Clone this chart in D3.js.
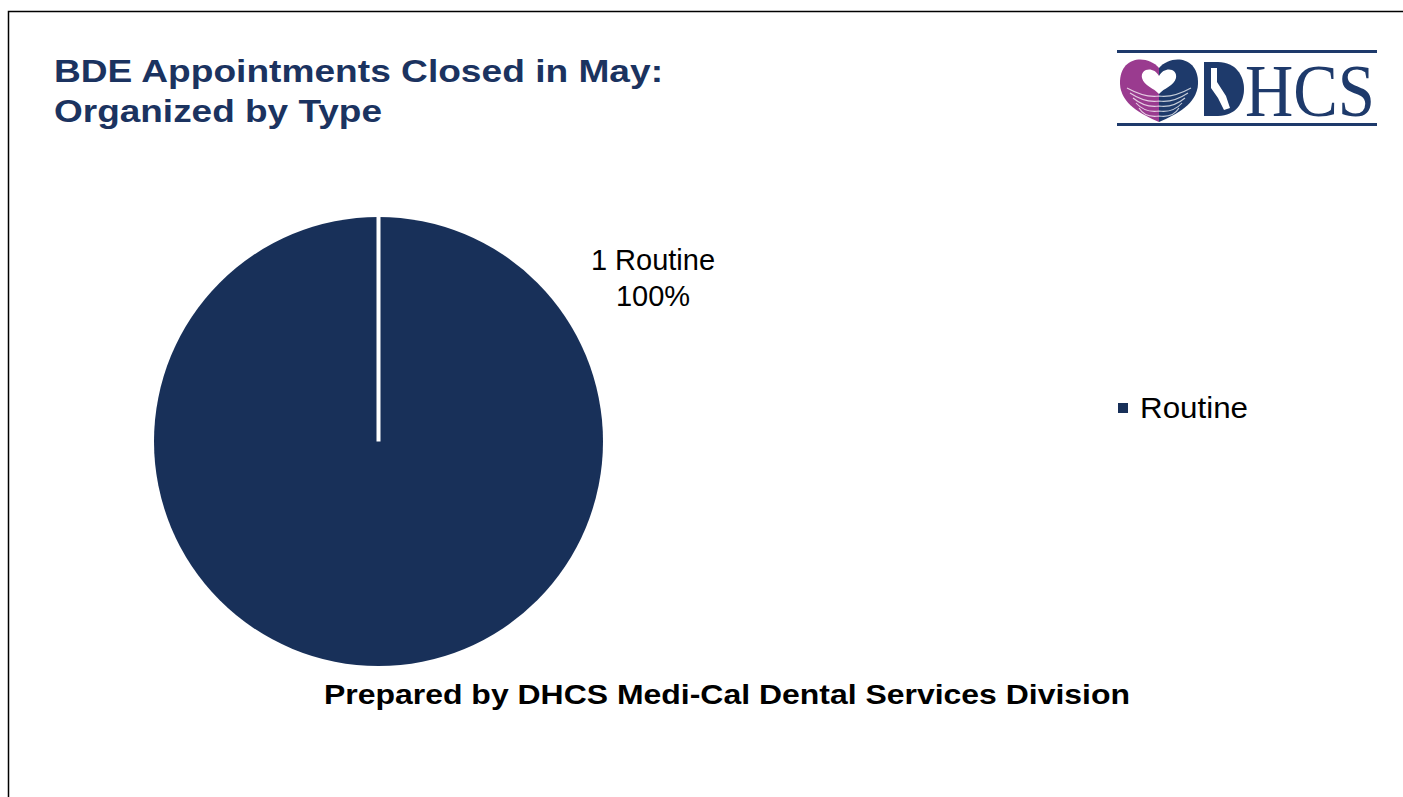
<!DOCTYPE html>
<html><head><meta charset="utf-8">
<script src="https://cdn.jsdelivr.net/npm/d3@7"></script>
<style>html,body{margin:0;padding:0;background:#fff;overflow:hidden}</style>
</head><body>
<script>
const categories = ["Routine"];
const values = [1];
const colors = ["#183059"];
const titleLines = ["BDE Appointments Closed in May:", "Organized by Type"];
const footer = "Prepared by DHCS Medi-Cal Dental Services Division";

const W = 1403, H = 797;
const svg = d3.select("body").append("svg").attr("width", W).attr("height", H);
const SANS = "Liberation Sans, Arial, sans-serif";

// frame
svg.append("path").attr("d", `M8.5,${H} L8.5,11.5 L${W},11.5`).attr("fill","none").attr("stroke","#000").attr("stroke-width",1.5);

// title
titleLines.forEach((t,i)=>{
  svg.append("text").attr("x",54).attr("y",82+i*40)
    .attr("font-family",SANS).attr("font-weight","bold")
    .attr("font-size",30.5).attr("fill","#1b3360")
    .attr("textLength", i===0?609:328).attr("lengthAdjust","spacingAndGlyphs").text(t);
});

// pie
const cx = 378.5, cy = 441.5, r = 224.5;
const pie = d3.pie().sort(null).value(d=>d)(values);
const arc = d3.arc().innerRadius(0).outerRadius(r);
const g = svg.append("g").attr("transform",`translate(${cx},${cy})`);
g.selectAll("path.slice").data(pie).join("path").attr("class","slice")
  .attr("d",arc).attr("fill",(d,i)=>colors[i]);
g.selectAll("line.sep").data(pie).join("line").attr("class","sep")
  .attr("x1",0).attr("y1",0)
  .attr("x2",d=>r*Math.sin(d.startAngle)).attr("y2",d=>-r*Math.cos(d.startAngle))
  .attr("stroke","#fff").attr("stroke-width",4);

// data labels
const total = d3.sum(values);
pie.forEach((d,i)=>{
  const t = svg.append("text").attr("text-anchor","middle")
    .attr("font-family",SANS).attr("font-size",29).attr("fill","#000");
  t.append("tspan").attr("x",653).attr("y",270).text(`${values[i]} ${categories[i]}`);
  t.append("tspan").attr("x",653).attr("y",306).text(`${Math.round(values[i]/total*100)}%`);
});

// legend
categories.forEach((c,i)=>{
  svg.append("rect").attr("x",1118).attr("y",403+i*30).attr("width",10).attr("height",10).attr("fill",colors[i]);
  svg.append("text").attr("x",1140).attr("y",418+i*30)
    .attr("font-family",SANS).attr("font-size",29).attr("fill","#000")
    .attr("textLength",108).attr("lengthAdjust","spacingAndGlyphs").text(c);
});

// footer
svg.append("text").attr("x",727).attr("y",704).attr("text-anchor","middle")
  .attr("font-family",SANS).attr("font-weight","bold")
  .attr("font-size",28).attr("fill","#000").attr("textLength",806).attr("lengthAdjust","spacingAndGlyphs").text(footer);

// logo
const L = svg.append("g");
L.append("rect").attr("x",1117).attr("y",50).attr("width",260).attr("height",3).attr("fill","#1e3a6b");
L.append("rect").attr("x",1117).attr("y",123).attr("width",260).attr("height",3).attr("fill","#1e3a6b");
const hx = 1159, hy = 58;
L.append("path").attr("d",`M${hx},${hy+10} C${hx-12},${hy-4} ${hx-40},${hy-2} ${hx-39},${hy+26} C${hx-38},${hy+46} ${hx-18},${hy+56} ${hx},${hy+64} Z`).attr("fill","#9a3b8f");
L.append("path").attr("d",`M${hx},${hy+10} C${hx+12},${hy-4} ${hx+40},${hy-2} ${hx+39},${hy+26} C${hx+38},${hy+46} ${hx+18},${hy+56} ${hx},${hy+64} Z`).attr("fill","#1e3a6b");
L.append("path").attr("d",`M${hx},${hy+18} C${hx-5},${hy+8} ${hx-19},${hy+10} ${hx-17},${hy+20} C${hx-15},${hy+28} ${hx-5},${hy+30} ${hx},${hy+36} C${hx+5},${hy+30} ${hx+15},${hy+28} ${hx+17},${hy+20} C${hx+19},${hy+10} ${hx+5},${hy+8} ${hx},${hy+18} Z`).attr("fill","#fff");
[0,1,2,3,4].forEach(k=>{
  L.append("path").attr("d",`M${hx-32+k*3},${hy+30+k*5} Q${hx-14},${hy+40+k*5} ${hx},${hy+38+k*5} Q${hx+14},${hy+40+k*5} ${hx+32-k*3},${hy+30+k*5}`)
   .attr("fill","none").attr("stroke","#fff").attr("stroke-width",1.1).attr("opacity",0.75);
});
L.append("path").attr("d","M1204,62 L1218,62 C1236,62 1244,76 1244,89 C1244,102 1236,116 1218,116 L1204,116 Z").attr("fill","#1e3a6b");
L.append("path").attr("d","M1211,68 L1217,68 L1217,82 L1226,96 L1230,108 L1224,110 L1218,98 L1211,88 Z").attr("fill","#fff");
L.append("text").attr("x",1245).attr("y",116).attr("font-family","Liberation Serif, Times New Roman, serif")
  .attr("font-size",74).attr("fill","#1e3a6b").attr("textLength",130).attr("lengthAdjust","spacingAndGlyphs").text("HCS");
</script>
</body></html>
